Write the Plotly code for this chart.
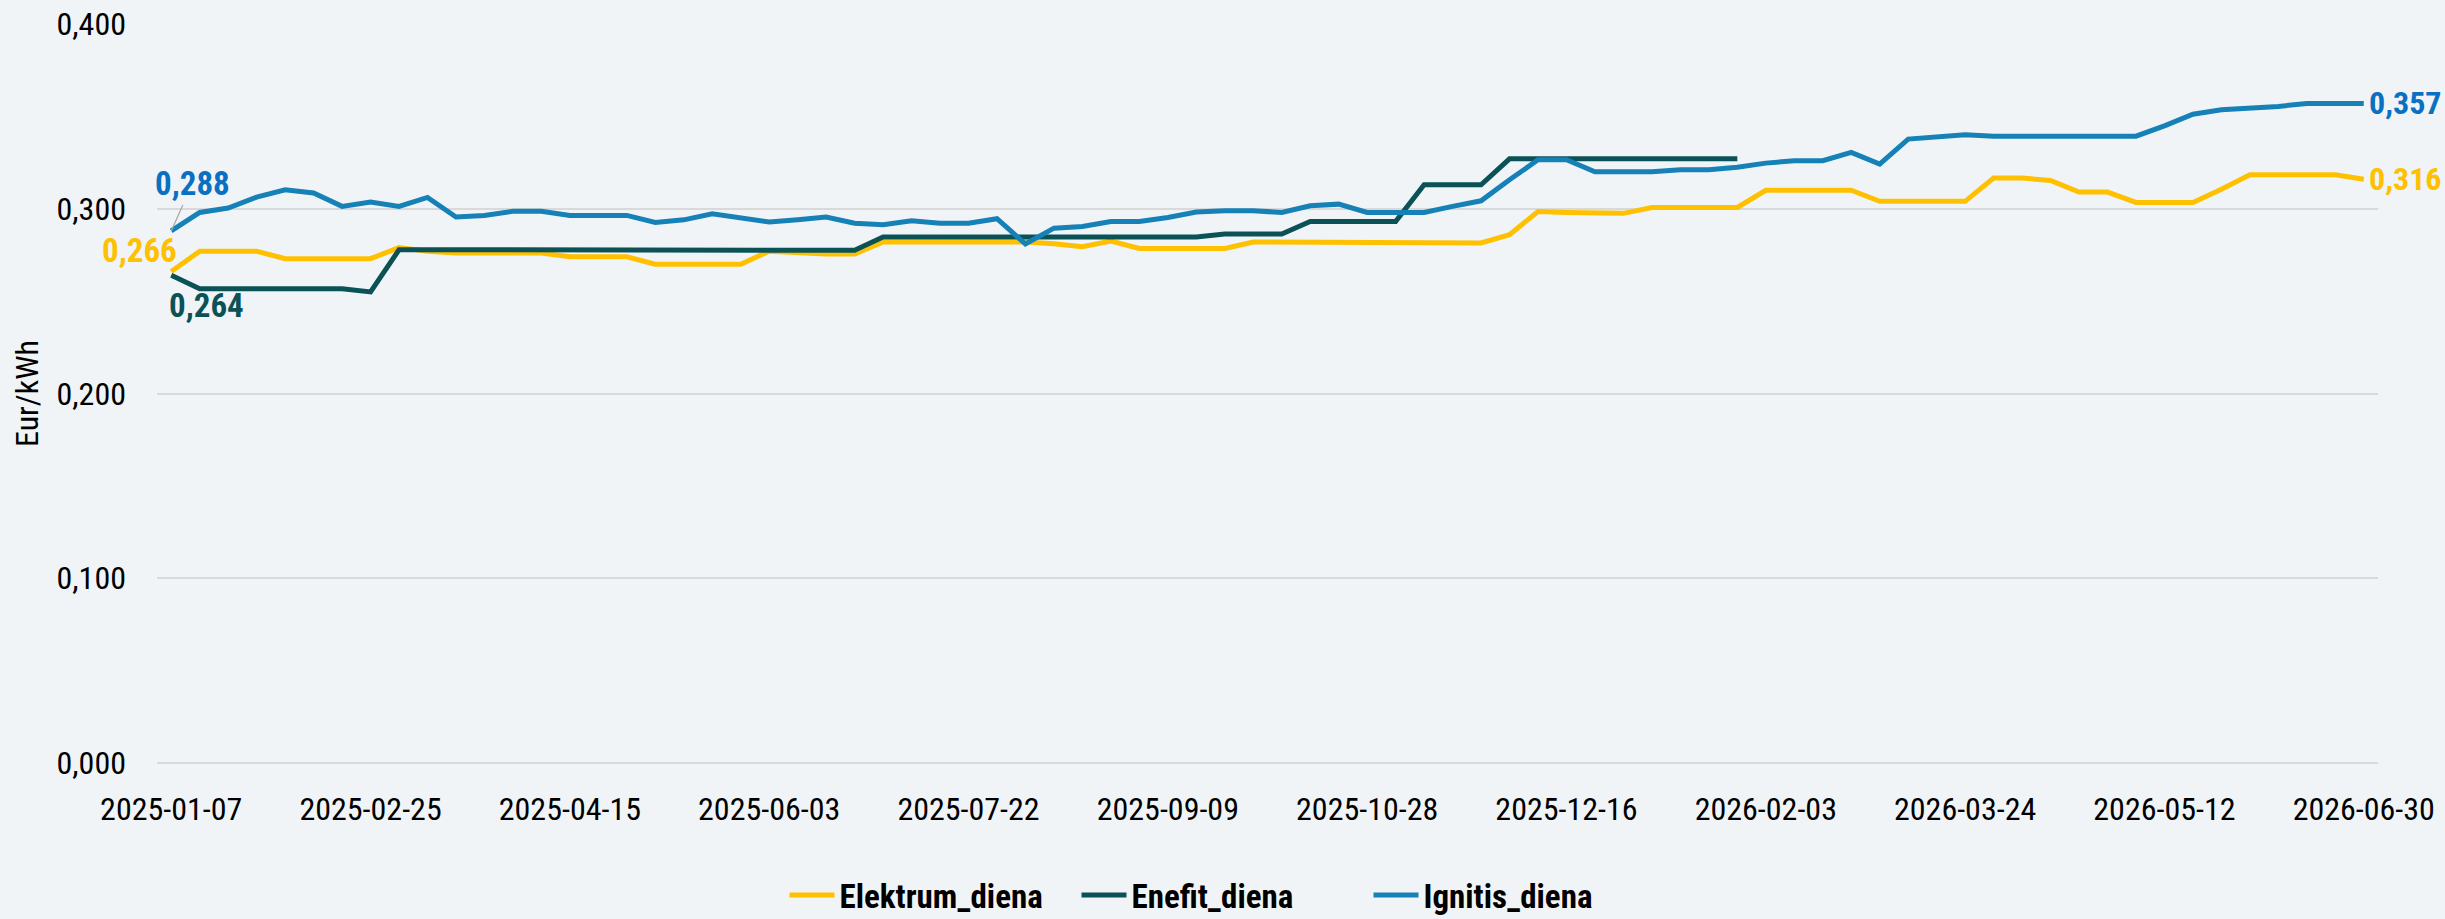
import pandas as pd
import plotly.graph_objects as go

dates = [d.strftime("%Y-%m-%d") for d in pd.date_range("2025-01-07", periods=78, freq="7D")]
tick_dates = dates[::7]

elektrum = [0.266, 0.277, 0.277, 0.277, 0.273, 0.273, 0.273, 0.273, 0.279, 0.277,
            0.276, 0.276, 0.276, 0.276, 0.274, 0.274, 0.274, 0.270, 0.270, 0.270,
            0.270, 0.277, 0.276, 0.2755, 0.2755, 0.282, 0.282, 0.282, 0.282, 0.282,
            0.282, 0.281, 0.2795, 0.2825, 0.2785, 0.2785, 0.2785, 0.2785, 0.282, 0.282,
            0.282, 0.282, 0.282, 0.2815, 0.2815, 0.2815, 0.2815, 0.286, 0.2985, 0.298,
            0.2978, 0.2975, 0.3007, 0.3007, 0.3007, 0.3007, 0.310, 0.310, 0.310, 0.310,
            0.304, 0.304, 0.304, 0.304, 0.3166, 0.3166, 0.3153, 0.309, 0.309, 0.3034,
            0.3034, 0.3034, 0.3106, 0.3184, 0.3184, 0.3184, 0.3184, 0.316]

enefit = [0.264, 0.2567, 0.2567, 0.2567, 0.2567, 0.2567, 0.2567, 0.255, 0.2778, 0.2778,
          0.2778, 0.2778, 0.2778, 0.2778, 0.2778, 0.2778, 0.2778, 0.2778, 0.2778, 0.2778,
          0.2778, 0.2778, 0.2775, 0.2775, 0.2775, 0.2847, 0.2847, 0.2847, 0.2847, 0.2847,
          0.2847, 0.2847, 0.2847, 0.2847, 0.2847, 0.2847, 0.2847, 0.2863, 0.2863, 0.2863,
          0.2931, 0.2931, 0.2931, 0.2931, 0.313, 0.313, 0.313, 0.327, 0.327, 0.327,
          0.327, 0.327, 0.327, 0.327, 0.327, 0.327] + [None] * 22

ignitis = [0.288, 0.298, 0.3004, 0.3063, 0.3103, 0.3085, 0.3013, 0.3036, 0.3013, 0.3061,
           0.2955, 0.2964, 0.2986, 0.2986, 0.2964, 0.2964, 0.2964, 0.2926, 0.294, 0.2973,
           0.295, 0.2928, 0.294, 0.2955, 0.2922, 0.2913, 0.2935, 0.2922, 0.2922, 0.2946,
           0.2809, 0.2895, 0.2904, 0.2931, 0.2931, 0.2953, 0.2982, 0.2989, 0.2989, 0.298,
           0.3016, 0.3025, 0.298, 0.298, 0.298, 0.3013, 0.3043, 0.3157, 0.3265, 0.3265,
           0.320, 0.320, 0.320, 0.3211, 0.3211, 0.3225, 0.3247, 0.326, 0.326, 0.3305,
           0.3242, 0.3377, 0.3391, 0.340, 0.3393, 0.3393, 0.3393, 0.3393, 0.3393, 0.3393,
           0.3449, 0.3512, 0.3536, 0.3545, 0.3554, 0.357, 0.357, 0.357]

series_names = ["Elektrum_diena", "Enefit_diena", "Ignitis_diena"]
line_colors = ["#FFC000", "#0B5257", "#1681B7"]
label_colors = ["#FFC000", "#0B5257", "#0A70C2"]

FONT = "Liberation Sans Narrow, Arial Narrow, Roboto Condensed, Lato, sans-serif"
LBL = 33

fig = go.Figure()
for name, vals, col in zip(series_names, [elektrum, enefit, ignitis], line_colors):
    fig.add_trace(go.Scatter(x=dates, y=vals, name=name, mode="lines",
                             line=dict(color=col, width=5), connectgaps=False))

def fmt(v):
    return f"{v:.3f}".replace(".", ",")

ann = []
ann.append(dict(x=dates[0], y=ignitis[0], text=fmt(ignitis[0]), showarrow=True,
                arrowhead=0, arrowwidth=1.2, arrowcolor="#A6A6A6", ax=21, ay=-47,
                font=dict(color=label_colors[2], size=LBL, family=FONT, weight="bold")))
ann.append(dict(x=dates[0], y=elektrum[0], text=fmt(elektrum[0]), showarrow=False,
                xshift=-32, yshift=21,
                font=dict(color=label_colors[0], size=LBL, family=FONT, weight="bold")))
ann.append(dict(x=dates[0], y=enefit[0], text=fmt(enefit[0]), showarrow=False,
                xshift=35, yshift=-30,
                font=dict(color=label_colors[1], size=LBL, family=FONT, weight="bold")))
ann.append(dict(x=dates[-1], y=ignitis[-1], text=fmt(ignitis[-1]), showarrow=False,
                xanchor="left", xshift=3,
                font=dict(color=label_colors[2], size=32, family=FONT, weight="bold")))
ann.append(dict(x=dates[-1], y=elektrum[-1], text=fmt(elektrum[-1]), showarrow=False,
                xanchor="left", xshift=3,
                font=dict(color=label_colors[0], size=32, family=FONT, weight="bold")))

fig.update_layout(
    width=2445, height=919,
    paper_bgcolor="#F0F4F7", plot_bgcolor="#F0F4F7",
    margin=dict(l=157, r=67, t=24, b=156, autoexpand=False),
    separators=",.",
    font=dict(family=FONT, size=32, color="#000000"),
    annotations=ann,
    showlegend=True,
    legend=dict(orientation="h", x=0.5, xanchor="center", xref="container",
                y=0.026, yanchor="middle", yref="container",
                font=dict(size=33, family=FONT, weight="bold"),
                itemwidth=45, entrywidth=232, entrywidthmode="pixels",
                traceorder="normal", bgcolor="rgba(0,0,0,0)"),
    xaxis=dict(type="category", categoryorder="array", categoryarray=dates,
               range=[-0.5, len(dates) - 0.5], tickmode="array", tickvals=tick_dates,
               ticktext=tick_dates, showgrid=False, showline=False, zeroline=False,
               automargin=False,
               ticks="", ticklabelstandoff=24, tickfont=dict(size=32, family=FONT)),
    yaxis=dict(range=[0, 0.4], tickvals=[0, 0.1, 0.2, 0.3, 0.4], tickformat=".3f",
               showgrid=True, gridcolor="#D9D9D9", gridwidth=2, zeroline=True,
               zerolinecolor="#D9D9D9", zerolinewidth=2, showline=False, ticks="",
               automargin=False,
               ticklabelstandoff=30, tickfont=dict(size=32, family=FONT),
               title=dict(text="Eur/kWh", font=dict(size=32, family=FONT), standoff=8)),
)

fig.write_html("out.html", config={"displayModeBar": False},
               post_script="document.body.style.margin='0';document.body.style.overflow='hidden';")
